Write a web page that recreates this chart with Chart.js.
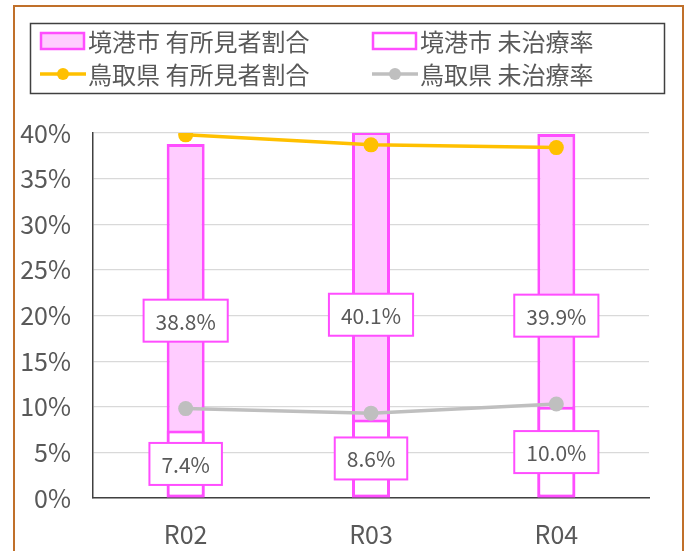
<!DOCTYPE html>
<html>
<head>
<meta charset="utf-8">
<script src="https://cdn.jsdelivr.net/npm/chart.js@4/dist/chart.umd.min.js"></script>
<style>
  html, body { margin: 0; padding: 0; background: #ffffff; }
  #wrap { width: 692px; height: 551px; position: relative; }
</style>
</head>
<body>
<div id="wrap"><canvas id="c" width="692" height="551"></canvas></div>
<script>
// Fiscal years
const categories = ['R02', 'R03', 'R04'];
// 境港市 (bars)
const sakaiFindingRate = [38.8, 40.1, 39.9];
const sakaiUntreatedRate = [7.4, 8.6, 10.0];
// 鳥取県 (lines)
const tottoriFindingRate = [39.8, 38.7, 38.4];
const tottoriUntreatedRate = [9.8, 9.3, 10.3];
// Axis ticks
const yTickValues = [0, 5, 10, 15, 20, 25, 30, 35, 40];

const FONT = "'Noto Sans CJK JP', 'Noto Sans', sans-serif";
const TEXT = '#595959';
const MAGENTA = '#ff4dff';
const PINK = '#ffccff';
const GOLD = '#ffc000';
const GREY = '#bfbfbf';

// Frame around the whole figure
const framePlugin = {
  id: 'frame',
  beforeDraw(chart) {
    const ctx = chart.ctx;
    ctx.save();
    ctx.fillStyle = '#ffffff';
    ctx.fillRect(0, 0, chart.width, chart.height);
    ctx.strokeStyle = '#c0702a';
    ctx.lineWidth = 2;
    ctx.strokeRect(14, 6, 669, chart.height + 10);
    ctx.restore();
  }
};

// Boxed value labels centred on each bar
const barLabelPlugin = {
  id: 'barLabels',
  afterDatasetsDraw(chart) {
    const ctx = chart.ctx;
    ctx.save();
    ctx.font = '21px ' + FONT;
    ctx.textAlign = 'center';
    ctx.textBaseline = 'middle';
    chart.data.datasets.forEach((ds, di) => {
      if (ds.type !== 'bar') return;
      const meta = chart.getDatasetMeta(di);
      meta.data.forEach((el, i) => {
        const text = ds.data[i].toFixed(1) + '%';
        const cx = el.x;
        const cy = (el.y + el.base) / 2;
        const w = ctx.measureText(text).width + 24;
        const h = 42;
        ctx.fillStyle = '#ffffff';
        ctx.fillRect(cx - w / 2, cy - h / 2, w, h);
        ctx.strokeStyle = MAGENTA;
        ctx.lineWidth = 2;
        ctx.strokeRect(cx - w / 2, cy - h / 2, w, h);
        ctx.fillStyle = TEXT;
        ctx.fillText(text, cx, cy + 1);
      });
    });
    ctx.restore();
  }
};

// Two-column boxed legend
const boxLegendPlugin = {
  id: 'boxLegend',
  afterDraw(chart) {
    const ctx = chart.ctx;
    const ds = chart.data.datasets;
    ctx.save();
    ctx.strokeStyle = '#404040';
    ctx.lineWidth = 1.5;
    ctx.strokeRect(30.5, 23.5, 634, 70);
    const cols = [40, 372];
    const rows = [41, 74];
    ctx.font = '24px ' + FONT;
    ctx.textBaseline = 'middle';
    ctx.textAlign = 'left';
    ds.forEach((d, i) => {
      const x = cols[i % 2];
      const y = rows[Math.floor(i / 2)];
      if (d.type === 'bar') {
        ctx.fillStyle = d.backgroundColor;
        ctx.fillRect(x + 1, y - 8, 43, 16);
        ctx.strokeStyle = d.borderColor;
        ctx.lineWidth = 2.5;
        ctx.strokeRect(x + 1, y - 8, 43, 16);
      } else {
        ctx.strokeStyle = d.borderColor;
        ctx.lineWidth = 3.5;
        ctx.beginPath();
        ctx.moveTo(x, y);
        ctx.lineTo(x + 46, y);
        ctx.stroke();
        ctx.fillStyle = d.borderColor;
        ctx.beginPath();
        ctx.arc(x + 23, y, 6, 0, Math.PI * 2);
        ctx.fill();
      }
      ctx.fillStyle = TEXT;
      ctx.fillText(d.label, x + 48, y + 1);
    });
    ctx.restore();
  }
};

new Chart(document.getElementById('c'), {
  data: {
    labels: categories,
    datasets: [
      {
        type: 'bar', label: '境港市 有所見者割合', data: sakaiFindingRate,
        backgroundColor: PINK, borderColor: MAGENTA, borderWidth: 3,
        borderSkipped: false, grouped: false,
        barPercentage: 0.205, categoryPercentage: 1, order: 3
      },
      {
        type: 'bar', label: '境港市 未治療率', data: sakaiUntreatedRate,
        backgroundColor: '#ffffff', borderColor: MAGENTA, borderWidth: 3,
        borderSkipped: false, grouped: false,
        barPercentage: 0.205, categoryPercentage: 1, order: 2
      },
      {
        type: 'line', label: '鳥取県 有所見者割合', data: tottoriFindingRate,
        borderColor: GOLD, backgroundColor: GOLD, borderWidth: 3.5,
        pointRadius: 7.5, pointBorderWidth: 0, pointBackgroundColor: GOLD,
        tension: 0, order: 0
      },
      {
        type: 'line', label: '鳥取県 未治療率', data: tottoriUntreatedRate,
        borderColor: GREY, backgroundColor: GREY, borderWidth: 3.5,
        pointRadius: 7.5, pointBorderWidth: 0, pointBackgroundColor: GREY,
        tension: 0, order: 1
      }
    ]
  },
  options: {
    responsive: false,
    devicePixelRatio: 1,
    animation: false,
    layout: { padding: { top: 133, right: 43, bottom: 0, left: 0 } },
    plugins: {
      legend: { display: false },
      tooltip: { enabled: false }
    },
    scales: {
      x: {
        offset: true,
        grid: { display: false, drawTicks: false },
        border: { display: true, color: '#404040', width: 1.5 },
        ticks: { color: TEXT, font: { family: FONT, size: 25 }, padding: 21 },
        afterFit(scale) { scale.height = 53; }
      },
      y: {
        min: 0, max: 40,
        afterBuildTicks(scale) { scale.ticks = yTickValues.map(v => ({ value: v })); },
        grid: { color: '#d9d9d9', lineWidth: 1.2, drawTicks: false },
        border: { display: true, color: '#404040', width: 1.5 },
        ticks: {
          color: TEXT, font: { family: FONT, size: 25 }, padding: 22,
          callback: v => v + '%'
        },
        afterFit(scale) { scale.width = 93; }
      }
    }
  },
  plugins: [framePlugin, barLabelPlugin, boxLegendPlugin]
});
</script>
</body>
</html>
